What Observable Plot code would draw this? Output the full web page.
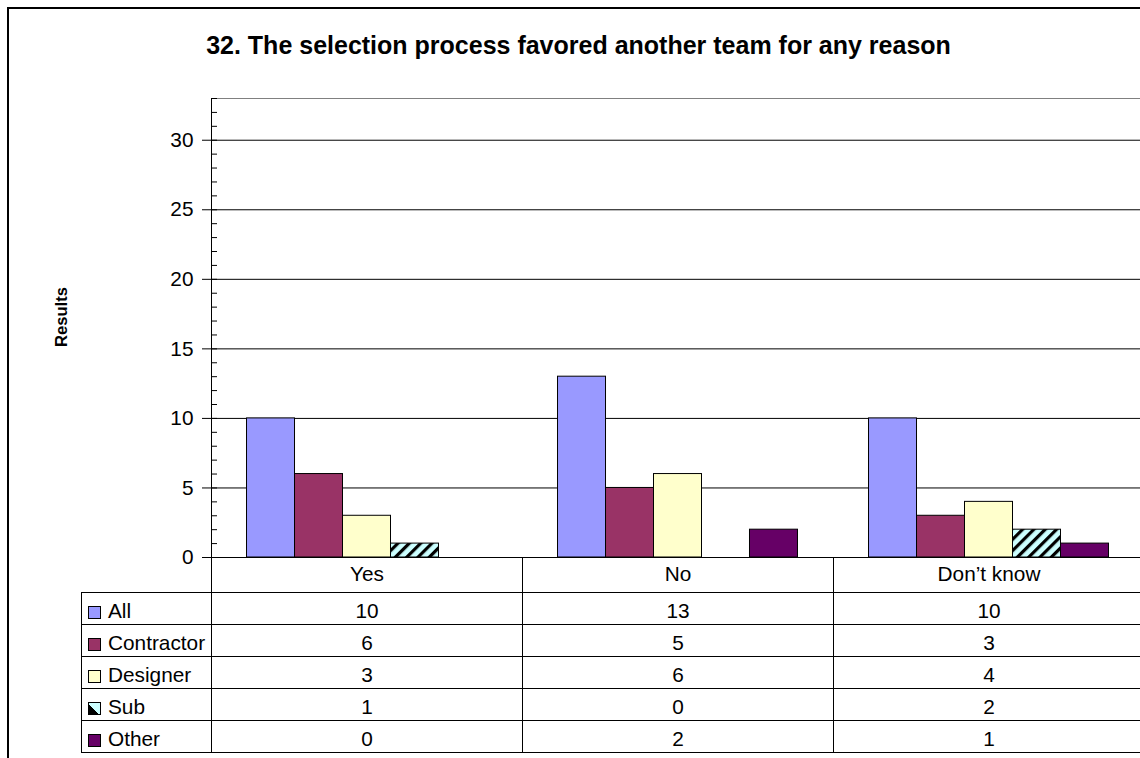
<!DOCTYPE html>
<html>
<head>
<meta charset="utf-8">
<script src="https://cdn.jsdelivr.net/npm/d3@7"></script>
<script src="https://cdn.jsdelivr.net/npm/@observablehq/plot@0.6"></script>
<style>
  html, body { margin: 0; padding: 0; background: #fff; overflow: hidden; width: 1140px; height: 758px; }
  body { position: relative; font-family: "Liberation Sans", Arial, sans-serif; color: #000; }
  #frame { position: absolute; left: 7px; top: 7px; width: 1200px; height: 800px; border-left: 2px solid #000; border-top: 2px solid #000; }
  #title { position: absolute; left: 0; width: 1157px; top: 33px; text-align: center; font-size: 25px; font-weight: bold; line-height: 1; white-space: nowrap; }
  #ylabel { position: absolute; left: 62px; top: 317px; transform: translate(-50%, -50%) rotate(-90deg); font-size: 16.6px; font-weight: bold; line-height: 1; white-space: nowrap; }
  #chart { position: absolute; left: 0; top: 0; width: 1160px; height: 560px; }
  #chart svg { max-width: none !important; width: 1160px !important; height: 560px !important; }
  #table { position: absolute; left: 81px; top: 557px; border-collapse: collapse; table-layout: fixed; font-size: 20.8px; line-height: 1; }
  #table td { border: 1px solid #000; padding: 0; text-align: center; vertical-align: middle; white-space: nowrap; }
  #table tr.head td { height: 35px; border-top: none; }
  #table tr.head td.corner { border-left: none; }
  #table tr.row td { height: 32px; padding-top: 5px; box-sizing: border-box; }
  #table td.leg { text-align: left; }
  .sw { display: inline-block; width: 13px; height: 13px; box-sizing: border-box; border: 1px solid #000; margin: 0 7px 0 6px; vertical-align: -1px; }
</style>
</head>
<body>
<div id="frame"></div>
<div id="chart"></div>
<div id="title"></div>
<div id="ylabel"></div>
<table id="table"></table>
<script>
// ---- data ----
const titleText = "32. The selection process favored another team for any reason";
const yLabel = "Results";
const categories = ["Yes", "No", "Don\u2019t know"];
const series = ["All", "Contractor", "Designer", "Sub", "Other"];
const allValues = [10, 13, 10];
const contractorValues = [6, 5, 3];
const designerValues = [3, 6, 4];
const subValues = [1, 0, 2];
const otherValues = [0, 2, 1];
const yTicks = [0, 5, 10, 15, 20, 25, 30];
const seriesColors = ["#9999FF", "#993366", "#FFFFCC", "url(#hatch)", "#660066"];
const swatchBg = ["#9999FF", "#993366", "#FFFFCC", "linear-gradient(45deg, #000 0 42%, #CCFFFF 42% 100%)", "#660066"];

const valuesBySeries = [allValues, contractorValues, designerValues, subValues, otherValues];
const data = categories.flatMap((c, i) => series.map((s, j) => ({category: c, series: s, value: valuesBySeries[j][i]})));

document.getElementById("title").textContent = titleText;
document.getElementById("ylabel").textContent = yLabel;

const chart = Plot.plot({
  width: 1160,
  height: 560,
  marginLeft: 211,
  marginRight: 16,
  marginTop: 98,
  marginBottom: 3,
  style: {fontFamily: "'Liberation Sans', Arial, sans-serif", fontSize: "20.8px", color: "#000", background: "transparent", overflow: "visible", maxWidth: "none"},
  fx: {domain: categories, padding: 0, round: false, axis: null},
  x: {domain: series, paddingInner: 0, paddingOuter: 0.74, round: false, axis: null},
  y: {domain: [0, 33]},
  color: {domain: series, range: seriesColors},
  marks: [
    Plot.ruleY(yTicks, {stroke: "#000", strokeWidth: 1}),
    Plot.ruleY([33], {stroke: "#808080", strokeWidth: 1}),
    Plot.barY(data, {fx: "category", x: "series", y: "value", fill: "series", stroke: "#000", strokeWidth: 1}),
    Plot.axisY(yTicks, {anchor: "left", tickSize: 9, tickPadding: 9, label: null, fontSize: 20.8}),
    Plot.axisY(d3.range(0, 34), {anchor: "left", tickSize: 6, dx: 6, tickFormat: () => "", label: null}),
    Plot.frame({anchor: "left", facet: "super", stroke: "#000"})
  ]
});

// hatch pattern for the "Sub" series
const svgNS = "http://www.w3.org/2000/svg";
const defs = document.createElementNS(svgNS, "defs");
defs.innerHTML = '<pattern id="hatch" patternUnits="userSpaceOnUse" width="8" height="8" patternTransform="rotate(45)">' +
  '<rect width="8" height="8" fill="#CCFFFF"></rect><rect width="3.2" height="8" fill="#000"></rect></pattern>';
chart.insertBefore(defs, chart.firstChild);
document.getElementById("chart").appendChild(chart);

// data table aligned with the fx scale
const fx = chart.scale("fx");
const colW = fx.bandwidth !== undefined ? fx.bandwidth : (1160 - 211 - 16) / categories.length;
const table = d3.select("#table");
const cg = table.append("colgroup");
cg.append("col").style("width", "130px");
categories.forEach(() => cg.append("col").style("width", colW + "px"));
table.style("width", (130 + colW * categories.length) + "px");

const head = table.append("tr").attr("class", "head");
head.append("td").attr("class", "corner").style("border-bottom", "1px solid #000");
categories.forEach(c => head.append("td").text(c));

series.forEach((s, j) => {
  const tr = table.append("tr").attr("class", "row");
  const leg = tr.append("td").attr("class", "leg");
  leg.append("span").attr("class", "sw").style("background", swatchBg[j]);
  leg.append("span").text(s);
  categories.forEach((c, i) => tr.append("td").text(valuesBySeries[j][i]));
});
</script>
</body>
</html>
